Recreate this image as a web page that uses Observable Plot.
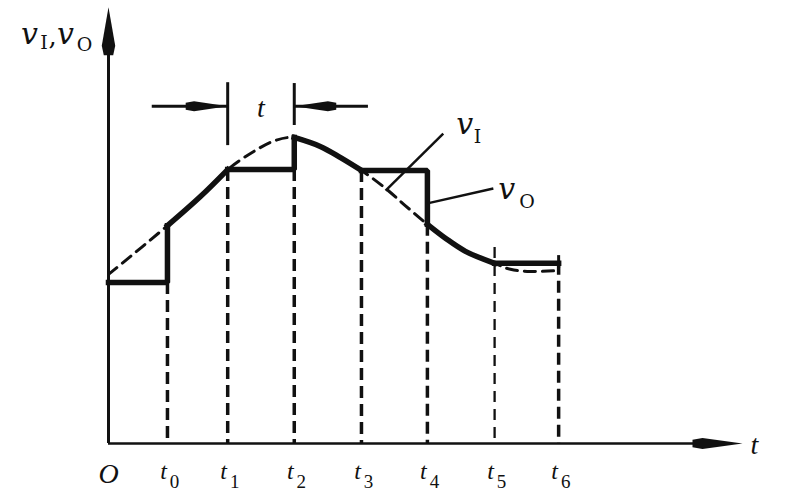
<!DOCTYPE html>
<html><head><meta charset="utf-8">
<script src="https://cdn.jsdelivr.net/npm/d3@7"></script>
<script src="https://cdn.jsdelivr.net/npm/@observablehq/plot@0.6"></script>
<style>html,body{margin:0;padding:0;background:#fff;} svg{display:block}</style>
</head><body><div id="chart"></div>
<script>
// sampling instants t0..t6 (time axis, O = 0)
const tTicks = [0.93, 1.88, 2.93, 3.99, 5.03, 6.09, 7.10];
const tSubscripts = ["0", "1", "2", "3", "4", "5", "6"];
// top end of each dashed drop line
const dashTops = [3.76, 6.40, 6.40, 6.38, 5.12, 4.58, 4.21];

// input signal vI (dashed)
const vI_t = [0, 0.93, 1.45, 1.88, 2.32, 2.63, 2.93, 3.34, 3.66, 3.99, 4.37, 4.68, 5.03, 5.32, 5.63, 6.09, 6.34, 6.66, 7.10];
const vI_v = [3.95, 5.09, 5.77, 6.40, 6.85, 7.08, 7.15, 6.94, 6.68, 6.38, 5.96, 5.56, 5.12, 4.79, 4.49, 4.21, 4.07, 4.02, 4.04];

// output vO: hold intervals
const holdStart = [0, 1.88, 3.99, 6.09];
const holdEnd = [0.93, 2.93, 5.03, 7.10];
const holdLevel = [3.76, 6.40, 6.38, 4.21];
// output vO: tracking intervals (follows vI)
const trackStart = [0.93, 2.93, 5.03];
const trackEnd = [1.88, 3.99, 6.09];
const endTick = [4.09, 4.39];

// interval marker "t" between t1 and t2
const markerTimes = [1.88, 2.93];
const markerBottom = [6.96, 7.43];
const markerTop = [8.43, 8.41];
const markerArrowY = 7.88;
const markerTails = [0.69, 4.10];

// curve labels
const curveLabels = [
  {name: "v", sub: "I", x: 5.62, y: 7.24, sx: 5.82, sy: 7.03, lx1: 5.28, ly1: 7.24, lx2: 4.37, ly2: 5.91},
  {name: "v", sub: "O", x: 6.28, y: 5.72, sx: 6.60, sy: 5.51, lx1: 6.07, ly1: 5.96, lx2: 5.03, ly2: 5.61}
];
const yAxisTop = 10.19;

const vI = vI_t.map((t, i) => ({t, v: vI_v[i]}));
const vIat = (t) => vI.find(d => d.t === t).v;

const holds = [];
holdStart.forEach((s, i) => {
  holds.push({t: s, v: holdLevel[i], g: i});
  holds.push({t: holdEnd[i], v: holdLevel[i], g: i});
  if (i < trackStart.length) holds.push({t: holdEnd[i], v: vIat(trackStart[i]), g: i});
});
const tracks = [];
trackStart.forEach((s, i) => {
  vI.filter(d => d.t >= s && d.t <= trackEnd[i]).forEach(d => tracks.push({...d, g: i}));
});
const drops = tTicks.map((t, i) => ({t, top: dashTops[i], i}));

function head(ratio) {
  return {draw(ctx, size) {
    const L = Math.sqrt(size / Math.PI), w = L * ratio / 2;
    ctx.moveTo(0, 0); ctx.lineTo(-0.8 * L, w); ctx.lineTo(-L, w * 0.7); ctx.lineTo(-L, -w * 0.7); ctx.lineTo(-0.8 * L, -w); ctx.closePath();
  }};
}
const ink = "#111";
const serif = "'Liberation Serif', 'Times New Roman', serif";
const dserif = "'DejaVu Serif', serif";
function txt(data, o) {
  const fs = o.fontSize;
  return Plot.text(data, {fill: ink, textAnchor: "middle", lineAnchor: "middle", ...o, dy: (o.base || 0) - 0.32 * fs});
}

const plot = Plot.plot({
  width: 787, height: 494,
  marginLeft: 108, marginRight: 45, marginTop: 15, marginBottom: 51,
  x: {domain: [0, 10], axis: null},
  y: {domain: [0, 10], axis: null},
  style: {background: "#fff", overflow: "visible"},
  marks: [
    // drop lines
    Plot.ruleX(drops.filter(d => d.i !== 5), {x: "t", y1: "top", y2: 0, stroke: ink, strokeWidth: 3.5, strokeDasharray: "12,6"}),
    Plot.ruleX(drops.filter(d => d.i === 5), {x: "t", y1: "top", y2: 0, stroke: ink, strokeWidth: 2.3, strokeDasharray: "11,7"}),
    // vI dashed
    Plot.line(vI, {x: "t", y: "v", curve: "catmull-rom", stroke: ink, strokeWidth: 3, strokeDasharray: "11,7"}),
    // vO solid
    Plot.line(holds, {x: "t", y: "v", z: "g", stroke: ink, strokeWidth: 5.5, strokeLinecap: "square", strokeLinejoin: "miter"}),
    Plot.line(tracks, {x: "t", y: "v", z: "g", curve: "catmull-rom", stroke: ink, strokeWidth: 5.5, strokeLinecap: "square"}),
    Plot.ruleX([tTicks[6]], {y1: endTick[0], y2: endTick[1], stroke: ink, strokeWidth: 3}),
    // axes
    Plot.ruleX([0], {y1: 0, y2: yAxisTop - 0.3, stroke: ink, strokeWidth: 3}),
    Plot.ruleY([0], {x1: 0, x2: 9.6, stroke: ink, strokeWidth: 2.5}),
    Plot.dot([{x: 0, y: yAxisTop}], {x: "x", y: "y", symbol: head(0.28), r: 48, fill: ink, stroke: "none", rotate: -90}),
    Plot.dot([{x: 10, y: 0}], {x: "x", y: "y", symbol: head(0.22), r: 50, fill: ink, stroke: "none"}),
    // interval marker
    Plot.ruleX(markerTimes.map((t, i) => ({t, b: markerBottom[i], h: markerTop[i]})), {x: "t", y1: "b", y2: "h", stroke: ink, strokeWidth: 3}),
    Plot.ruleY([{a: markerTails[0], b: markerTimes[0]}, {a: markerTimes[1], b: markerTails[1]}], {x1: "a", x2: "b", y: markerArrowY, stroke: ink, strokeWidth: 3}),
    Plot.dot([{x: markerTimes[0], y: markerArrowY}], {x: "x", y: "y", symbol: head(0.24), r: 42, fill: ink, stroke: "none"}),
    Plot.dot([{x: markerTimes[1], y: markerArrowY}], {x: "x", y: "y", symbol: head(0.24), r: 42, fill: ink, stroke: "none", rotate: 180}),
    txt([{x: (markerTimes[0] + markerTimes[1]) / 2, y: markerArrowY}], {x: "x", y: "y", text: () => "t", fontSize: 28, fontStyle: "italic", fontFamily: serif, base: 11}),
    // leader lines
    Plot.link(curveLabels, {x1: "lx1", y1: "ly1", x2: "lx2", y2: "ly2", stroke: ink, strokeWidth: 2.5}),
    txt(curveLabels, {x: "x", y: "y", text: "name", fontSize: 30, fontStyle: "italic", fontFamily: dserif}),
    txt(curveLabels, {x: "sx", y: "sy", text: "sub", fontSize: 19, fontFamily: dserif}),
    // tick labels
    txt(tTicks, {x: d => d, y: 0, text: () => "t", fontSize: 24, fontStyle: "italic", fontFamily: serif, dx: -4, base: 35}),
    txt(tTicks, {x: d => d, y: 0, text: (d, i) => tSubscripts[i], fontSize: 19, fontFamily: serif, dx: 7, base: 44}),
    txt([0], {x: d => d, y: 0, text: () => "O", fontSize: 28, fontStyle: "italic", fontFamily: serif, base: 39}),
    txt([10], {x: d => d, y: 0, text: () => "t", fontSize: 28, fontStyle: "italic", fontFamily: serif, dx: 12, base: 10}),
    // y axis title v_I, v_O
    txt(["v"], {text: d => d, frameAnchor: "top-left", fontSize: 30, fontStyle: "italic", fontFamily: dserif, dx: -79, base: 28}),
    txt(["I"], {text: d => d, frameAnchor: "top-left", fontSize: 19, fontFamily: dserif, dx: -64.5, base: 33}),
    txt([","], {text: d => d, frameAnchor: "top-left", fontSize: 26, fontFamily: dserif, dx: -56, base: 29}),
    txt(["v"], {text: d => d, frameAnchor: "top-left", fontSize: 30, fontStyle: "italic", fontFamily: dserif, dx: -43, base: 28}),
    txt(["O"], {text: d => d, frameAnchor: "top-left", fontSize: 19, fontFamily: dserif, dx: -24, base: 35})
  ]
});
document.getElementById("chart").append(plot);
</script>
</body></html>
